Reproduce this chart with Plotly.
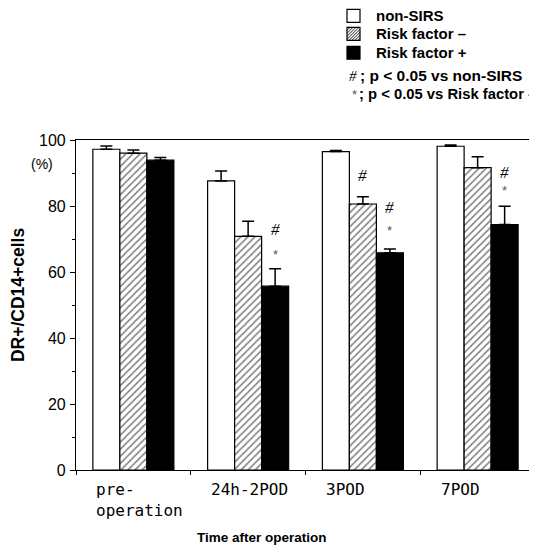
import plotly.graph_objects as go

categories = ["pre-<br>operation", "24h-2POD", "3POD", "7POD"]
series_names = ["non-SIRS", "Risk factor \u2013", "Risk factor +"]
non_sirs = [97.2, 87.6, 96.5, 98.1]
non_sirs_err = [1.0, 3.0, 0.3, 0.4]
rf_minus = [96.0, 70.8, 80.6, 91.6]
rf_minus_err = [1.0, 4.6, 2.2, 3.3]
rf_plus = [93.9, 55.7, 65.8, 74.4]
rf_plus_err = [0.8, 5.3, 1.2, 5.5]

# significance marks: (group index, series index, symbol, y value)
sig_group = [1, 1, 2, 2, 2, 3, 3]
sig_series = [2, 2, 1, 2, 2, 2, 2]
sig_symbol = ["#", "*", "#", "#", "*", "#", "*"]
sig_y = [72.9, 65.3, 89.1, 79.5, 72.5, 90.3, 84.6]

W, H = 537, 549
OFF = 8  # page body margin
L, R, T, B = 76, 535, 139.5, 470.5  # plot area in page pixels


def px_x(px):
    return (px - L) / (R - L)


def px_y(py):
    return (B - py) / (B - T)


x_pos = [i + 0.5 for i in range(len(categories))]
BARGAP = 0.294
bar_w = (1 - BARGAP) / 3

values = [non_sirs, rf_minus, rf_plus]
errors = [non_sirs_err, rf_minus_err, rf_plus_err]
fills = [
    dict(color="white"),
    dict(color="white", pattern=dict(shape="/", fgcolor="black", bgcolor="white", size=5, solidity=0.3, fillmode="overlay")),
    dict(color="black"),
]

fig = go.Figure()
for name, v, e, f in zip(series_names, values, errors, fills):
    fig.add_trace(go.Bar(
        x=x_pos, y=v, name=name,
        marker=dict(line=dict(color="black", width=1.2), **f),
        error_y=dict(type="data", array=e, arrayminus=[0] * len(e), symmetric=False,
                     color="black", thickness=1.5, width=6),
    ))

ann = []
shapes = []
# category labels (left aligned under each group)
for i, c in enumerate(categories):
    ann.append(dict(x=i + 0.16, y=px_y(479), xref="x", yref="paper", text=c, showarrow=False,
                    xanchor="left", yanchor="top", align="left",
                    font=dict(family="DejaVu Sans Mono", size=16, color="black")))

for g, s, sym, yv in zip(sig_group, sig_series, sig_symbol, sig_y):
    xc = x_pos[g] + (s - 1) * bar_w
    if sym == "#":
        font = dict(family="Liberation Serif", size=17, color="black", style="italic")
    else:
        font = dict(family="Liberation Sans", size=13, color="#555555")
    ann.append(dict(x=xc, y=yv, xref="x", yref="y", text=sym, showarrow=False,
                    xanchor="center", yanchor="middle", font=font))

# y unit and axis titles
ann.append(dict(x=px_x(42), y=px_y(164), xref="paper", yref="paper", text="(%)", showarrow=False,
                xanchor="center", yanchor="middle", font=dict(family="Liberation Sans", size=14, color="black")))
ann.append(dict(x=px_x(18), y=px_y(295), xref="paper", yref="paper", text="<b>DR+/CD14+cells</b>",
                showarrow=False, textangle=-90, xanchor="center", yanchor="middle",
                font=dict(family="Liberation Sans", size=17.5, color="black")))
ann.append(dict(x=px_x(262), y=px_y(538), xref="paper", yref="paper", text="<b>Time after operation</b>",
                showarrow=False, xanchor="center", yanchor="middle",
                font=dict(family="Liberation Sans", size=13.5, color="black")))

# series key (manual legend)
legend_rows = [15, 33, 52]
bx0, bx1, bh = 347, 360, 13
for name, ry, k in zip(series_names, legend_rows, range(3)):
    y0, y1 = px_y(ry + bh / 2), px_y(ry - bh / 2)
    fill = "black" if k == 2 else "white"
    shapes.append(dict(type="rect", xref="paper", yref="paper", x0=px_x(bx0), x1=px_x(bx1), y0=y0, y1=y1,
                       fillcolor=fill, line=dict(color="black", width=1.2)))
    if k == 1:
        # diagonal hatch inside the key box
        top, bot = ry - bh / 2, ry + bh / 2
        path = ""
        for off in range(-bh + 3, bh, 3):
            xa, ya = bx0 + off, bot
            xb, yb = bx0 + off + bh, top
            if xa < bx0:
                ya = bot - (bx0 - xa)
                xa = bx0
            if xb > bx1:
                yb = top + (xb - bx1)
                xb = bx1
            if xa >= xb:
                continue
            path += f"M{px_x(xa)},{px_y(ya)} L{px_x(xb)},{px_y(yb)} "
        shapes.append(dict(type="path", xref="paper", yref="paper", path=path,
                           line=dict(color="black", width=0.9)))
    ann.append(dict(x=px_x(374), y=px_y(ry), xref="paper", yref="paper", text=f"<b>{name}</b>",
                    showarrow=False, xanchor="left", yanchor="middle",
                    font=dict(family="Liberation Sans", size=15, color="black")))

# significance key
ann.append(dict(x=px_x(347), y=px_y(75), xref="paper", yref="paper", text="#", showarrow=False,
                xanchor="left", yanchor="middle",
                font=dict(family="Liberation Serif", size=15, color="black", style="italic")))
ann.append(dict(x=px_x(358), y=px_y(75), xref="paper", yref="paper", text="<b>; p < 0.05 vs non-SIRS</b>",
                showarrow=False, xanchor="left", yanchor="middle",
                font=dict(family="Liberation Sans", size=15.5, color="black")))
ann.append(dict(x=px_x(350), y=px_y(94), xref="paper", yref="paper", text="*", showarrow=False,
                xanchor="left", yanchor="middle",
                font=dict(family="Liberation Sans", size=13, color="#555555")))
ann.append(dict(x=px_x(357), y=px_y(93), xref="paper", yref="paper", text="<b>; p < 0.05 vs Risk factor -</b>",
                showarrow=False, xanchor="left", yanchor="middle",
                font=dict(family="Liberation Sans", size=14.8, color="black")))

fig.update_layout(
    width=W, height=H,
    margin=dict(l=L - OFF, r=W - (R - OFF), t=T - OFF, b=H - (B - OFF)),
    paper_bgcolor="white", plot_bgcolor="white",
    barmode="group", bargap=BARGAP, bargroupgap=0,
    showlegend=False,
    annotations=ann,
    shapes=shapes,
    xaxis=dict(range=[0, len(categories)], tickvals=list(range(len(categories) + 1)), showticklabels=False,
               ticks="outside", ticklen=4, tickcolor="black", showline=True, linecolor="black",
               linewidth=1.2, mirror=True, showgrid=False, zeroline=False),
    yaxis=dict(range=[0, 100], tickvals=[0, 20, 40, 60, 80, 100], ticks="outside", ticklen=5,
               tickcolor="black", showline=True, linecolor="black", linewidth=1.2, mirror=True,
               showgrid=False, zeroline=False, ticklabelstandoff=1,
               minor=dict(dtick=10, ticks="outside", ticklen=3, tickcolor="black"),
               tickfont=dict(family="Liberation Sans", size=16, color="black")),
)

fig.write_html("out.html")
